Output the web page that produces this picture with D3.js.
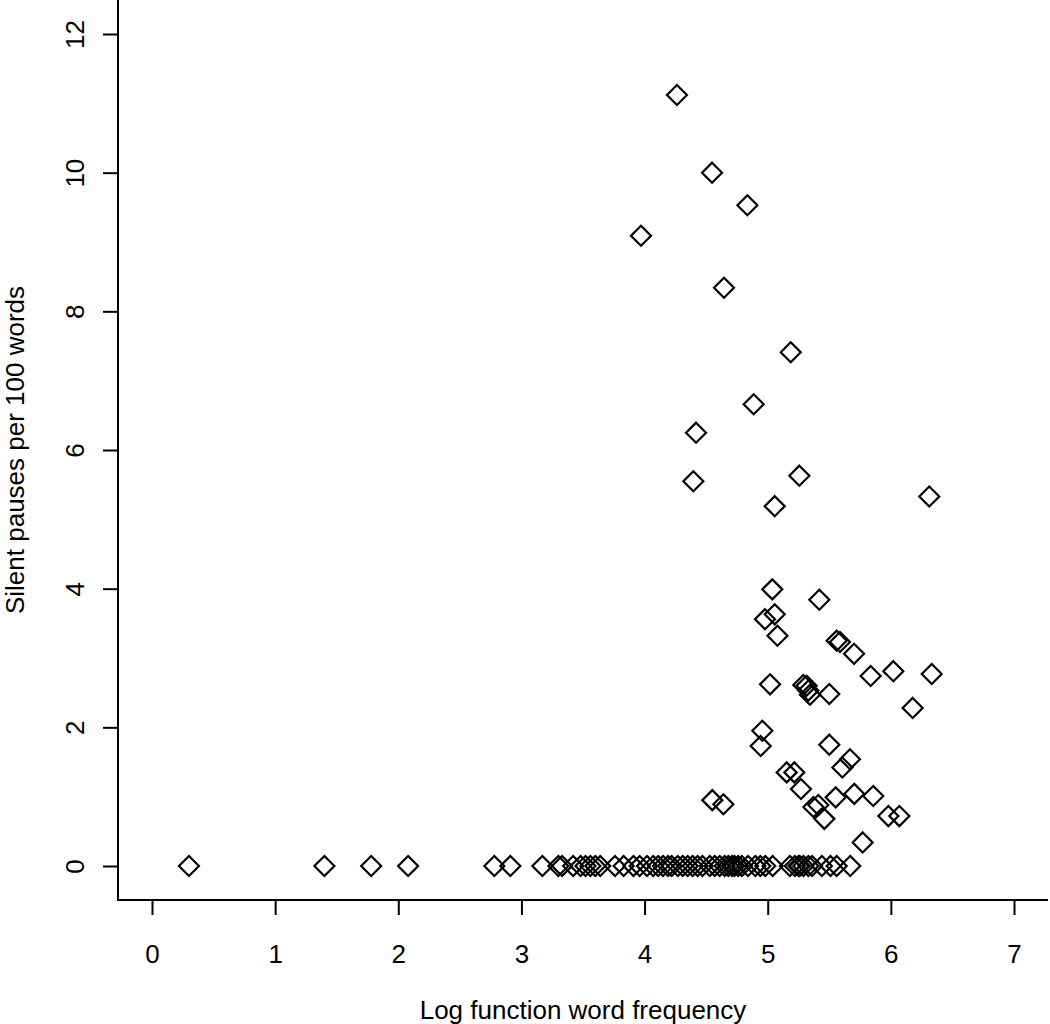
<!DOCTYPE html>
<html>
<head>
<meta charset="utf-8">
<script src="https://cdn.jsdelivr.net/npm/d3@7"></script>
<style>
  html, body { margin: 0; padding: 0; background: #fff; }
  svg { display: block; }
  text { font-family: "Liberation Sans", Arial, Helvetica, sans-serif; fill: #000; }
</style>
</head>
<body>
<svg id="chart" width="1050" height="1024"></svg>
<script>
// Points with non-zero pause rate
const freqNonZero = [4.263, 4.548, 4.835, 3.971, 4.645, 5.187, 4.886, 4.418, 4.396, 5.257, 5.057, 6.312,
  5.037, 5.419, 4.978, 5.057, 5.079, 5.560, 5.587, 5.701, 5.836, 6.020, 6.332, 5.019, 5.289, 5.316,
  5.330, 5.343, 5.500, 6.177, 4.956, 4.943, 5.500, 5.668, 5.606, 5.154, 5.216, 5.270, 5.552, 5.703,
  5.857, 5.371, 5.411, 5.460, 5.980, 6.069, 5.771, 4.550, 4.640];
const pausesNonZero = [11.12, 10.00, 9.53, 9.09, 8.34, 7.41, 6.66, 6.25, 5.55, 5.63, 5.19, 5.33,
  3.99, 3.84, 3.56, 3.63, 3.32, 3.25, 3.23, 3.06, 2.74, 2.81, 2.77, 2.62, 2.61, 2.60,
  2.53, 2.47, 2.48, 2.28, 1.95, 1.73, 1.75, 1.54, 1.42, 1.35, 1.35, 1.11, 0.99, 1.04,
  1.01, 0.85, 0.88, 0.68, 0.72, 0.72, 0.34, 0.95, 0.89];
// Points with zero pauses
const freqZero = [0.30, 1.40, 1.78, 2.08, 2.78, 2.91, 3.17, 3.30, 3.33, 3.42, 3.48, 3.52, 3.56, 3.60, 3.64,
  3.76, 3.83, 3.91, 3.96, 4.02, 4.07, 4.11, 4.15, 4.19, 4.22, 4.27, 4.31, 4.35, 4.39, 4.43, 4.47,
  4.53, 4.57, 4.61, 4.65, 4.68, 4.71, 4.73, 4.76, 4.79, 4.84, 4.90, 4.94, 4.98, 5.04, 5.18, 5.22,
  5.25, 5.26, 5.29, 5.33, 5.36, 5.44, 5.51, 5.56, 5.67];
const xTicks = [0, 1, 2, 3, 4, 5, 6, 7];
const yTicks = [0, 2, 4, 6, 8, 10, 12];
const xTitle = "Log function word frequency";
const yTitle = "Silent pauses per 100 words";

const points = freqNonZero.map((f, i) => ({x: f, y: pausesNonZero[i]}))
  .concat(freqZero.map(f => ({x: f, y: 0})));

const svg = d3.select("#chart");
const x = d3.scaleLinear().domain([0, 7]).range([152, 1014]);
const y = d3.scaleLinear().domain([0, 12]).range([866, 34]);
const boxLeft = 118, boxBottom = 900, boxRight = 1048, boxTop = 0;
const fontSize = 26;

// L-shaped box
svg.append("path")
  .attr("d", `M${boxLeft},${boxTop}V${boxBottom}H${boxRight}`)
  .attr("fill", "none").attr("stroke", "#000").attr("stroke-width", 2);

// X axis
const gx = svg.append("g").attr("transform", `translate(0,${boxBottom})`)
  .call(d3.axisBottom(x).tickValues(xTicks).tickSize(15).tickPadding(30).tickFormat(d3.format("d")));
gx.select(".domain").remove();
gx.selectAll(".tick line").attr("stroke", "#000").attr("stroke-width", 2);
gx.selectAll(".tick text").attr("font-size", fontSize).attr("font-family", "Liberation Sans, Arial, sans-serif");

// Y axis
const gy = svg.append("g").attr("transform", `translate(${boxLeft},0)`)
  .call(d3.axisLeft(y).tickValues(yTicks).tickSize(15).tickFormat(d3.format("d")));
gy.select(".domain").remove();
gy.selectAll(".tick line").attr("stroke", "#000").attr("stroke-width", 2);
gy.selectAll(".tick text")
  .attr("font-size", fontSize).attr("font-family", "Liberation Sans, Arial, sans-serif")
  .attr("x", null)
  .attr("text-anchor", "middle")
  .attr("transform", "translate(-43,0) rotate(-90)")
  .attr("dy", "0.35em");

// Titles
svg.append("text").attr("x", (152 + 1014) / 2).attr("y", 1019)
  .attr("text-anchor", "middle").attr("font-size", fontSize).text(xTitle);
svg.append("text").attr("transform", `translate(24,${(866 + 34) / 2}) rotate(-90)`)
  .attr("text-anchor", "middle").attr("font-size", fontSize).text(yTitle);

// Diamonds
const r = 10;
const diamond = `M0,${-r}L${r},0L0,${r}L${-r},0Z`;
svg.append("g").selectAll("path").data(points).join("path")
  .attr("d", diamond)
  .attr("transform", d => `translate(${x(d.x)},${y(d.y)})`)
  .attr("fill", "none").attr("stroke", "#000").attr("stroke-width", 2.2);
</script>
</body>
</html>
